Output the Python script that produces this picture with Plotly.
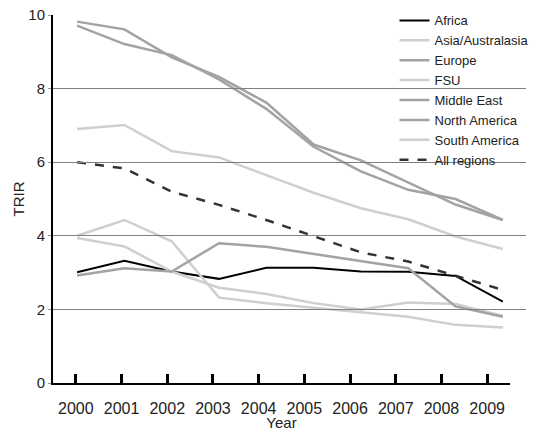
import plotly.graph_objects as go

years = [2000, 2001, 2002, 2003, 2004, 2005, 2006, 2007, 2008, 2009]
year_labels = [str(y) for y in years]

africa = [3.01, 3.32, 3.03, 2.83, 3.13, 3.13, 3.03, 3.02, 2.91, 2.21]
asia_australasia = [3.94, 3.71, 3.03, 2.59, 2.42, 2.17, 2.00, 2.19, 2.15, 1.82]
europe = [9.82, 9.61, 8.85, 8.32, 7.62, 6.48, 6.05, 5.45, 4.85, 4.43]
fsu = [4.00, 4.43, 3.85, 2.32, 2.17, 2.05, 1.94, 1.80, 1.58, 1.51]
middle_east = [2.92, 3.12, 3.03, 3.80, 3.70, 3.51, 3.32, 3.12, 2.08, 1.80]
north_america = [9.71, 9.21, 8.91, 8.25, 7.45, 6.42, 5.75, 5.25, 5.00, 4.43]
south_america = [6.90, 7.01, 6.30, 6.13, 5.65, 5.17, 4.75, 4.45, 3.98, 3.64]
all_regions = [6.00, 5.83, 5.20, 4.84, 4.43, 3.98, 3.55, 3.30, 2.91, 2.53]

y_ticks = [0, 2, 4, 6, 8, 10]

LIGHT = "#cfcfcf"
MID = "#a3a3a3"

series = [
    ("Africa", africa, dict(color="black", width=2)),
    ("Asia/Australasia", asia_australasia, dict(color=LIGHT, width=2.5)),
    ("Europe", europe, dict(color=MID, width=2.5)),
    ("FSU", fsu, dict(color=LIGHT, width=2.5)),
    ("Middle East", middle_east, dict(color=MID, width=2.5)),
    ("North America", north_america, dict(color=MID, width=2.5)),
    ("South America", south_america, dict(color=LIGHT, width=2.5)),
    ("All regions", all_regions, dict(color="#333333", width=2.5, dash="dash")),
]

fig = go.Figure()
for name, vals, line in series:
    fig.add_trace(go.Scatter(x=years, y=vals, name=name, mode="lines", line=line,
                             xaxis="x", yaxis="y"))

# invisible trace to carry the category-style tick axis
fig.add_trace(go.Scatter(x=years, y=[None] * len(years), xaxis="x2", yaxis="y",
                         showlegend=False, hoverinfo="skip", mode="lines"))

font_family = "Liberation Sans, Arial, sans-serif"

fig.update_layout(
    width=538, height=431,
    margin=dict(l=53, r=12, t=15, b=48, autoexpand=False),
    paper_bgcolor="white",
    plot_bgcolor="rgba(0,0,0,0)",
    font=dict(family=font_family, size=14, color="#222222"),
    showlegend=True,
    legend=dict(x=0.722, y=1.026, xanchor="left", yanchor="top",
                bgcolor="rgba(0,0,0,0)", font=dict(size=13),
                tracegroupgap=0, borderwidth=0),
    xaxis=dict(range=[1999.49, 2009.49], domain=[0, 1], showticklabels=False,
               showgrid=False, zeroline=False, showline=False, ticks="",
               automargin=False),
    xaxis2=dict(range=[1999.5, 2009.5], domain=[0, 0.9662], anchor="y",
                tickvals=years, ticktext=year_labels, ticks="inside",
                ticklen=9, tickwidth=3, tickcolor="black", tickangle=0,
                showline=True, linewidth=2, linecolor="black",
                showgrid=False, zeroline=False, automargin=False,
                tickfont=dict(size=16), ticklabelstandoff=10,
                title=dict(text="Year", font=dict(size=15), standoff=9)),
    yaxis=dict(range=[0, 10], tickvals=y_ticks, showgrid=True,
               gridcolor="#808080", gridwidth=1, zeroline=False,
               showline=True, linewidth=2, linecolor="black",
               ticks="outside", ticklen=3, tickcolor="#999999",
               tickfont=dict(size=15), automargin=False,
               title=dict(text="TRIR", font=dict(size=15), standoff=0)),
)

fig.write_html("out.html", config={"displayModeBar": False},
               post_script="document.body.style.margin='0';document.body.style.padding='0';")
